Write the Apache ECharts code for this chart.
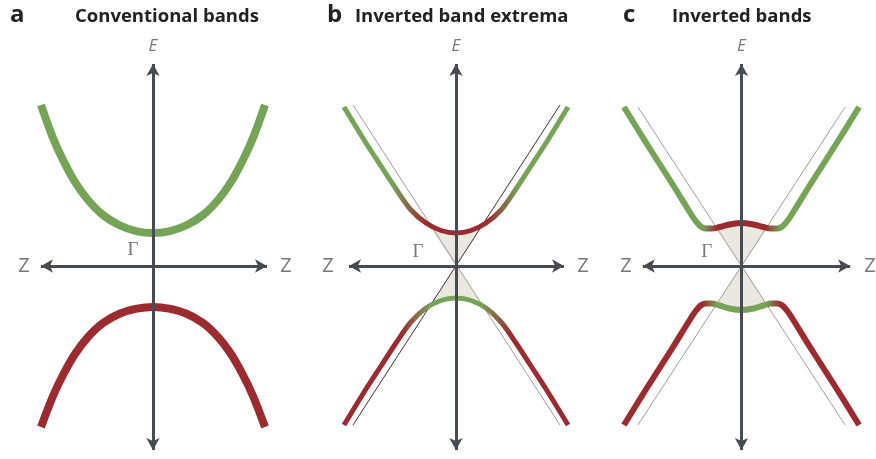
<!DOCTYPE html>
<html><head><meta charset="utf-8">
<script src="https://cdn.jsdelivr.net/npm/echarts@6/dist/echarts.min.js"></script>
<style>html,body{margin:0;padding:0;background:#fff}#c{width:876px;height:459px}</style>
</head><body><div id="c"></div>
<script>
// ---- data (k offset, E offset) ----
// panel a: conventional bands
const aUpperK = [-112,-100,-90,-78,-65,-50,-33,-16,0,16,33,50,65,78,90,100,112];
const aUpperE = [161,128,106,84,66,51,40.5,34.7,33,34.7,40.5,51,66,84,106,128,161];
const aLowerK = [-112,-100,-90,-78,-65,-50,-33,-16,0,16,33,50,65,78,90,100,112];
const aLowerE = [-161,-130,-109,-88,-71,-57,-47.5,-42.6,-41,-42.6,-47.5,-57,-71,-88,-109,-130,-161];
// panel b: inverted band extrema
const bUpperK = [-112,-90,-75,-60,-45,-30,-15,0,15,30,45,60,75,90,112];
const bUpperE = [159,123,100,77,56,43,35.5,33,35.5,43,56,77,100,123,159];
const bLowerK = [-112,-90,-75,-60,-45,-30,-15,0,15,30,45,60,75,90,112];
const bLowerE = [-159,-123,-100,-77,-56,-42,-34.5,-32,-34.5,-42,-56,-77,-100,-123,-159];
const bLineGray = [[-103,161],[104,-159]];
const bLineDark = [[-103,-159],[104,161]];
const bShadeUp = [[0,0],[-26.5,40.8],[-15,35.5],[0,33],[15,35.5],[26.5,40.8]];
const bShadeDown = [[0,0],[-26,-40],[-15,-34.5],[0,-32],[15,-34.5],[26,-40]];
// panel c: inverted bands
const cUpperK = [-118,-95,-70,-52,-46,-41,-36,-30,-22,-12,0,12,22,30,36,41,46,52,70,95,118];
const cUpperE = [159,122,83,54,45,39.5,37.5,37.5,39,41.5,43,41.5,39,37.5,37.5,39.5,45,54,83,122,159];
const cLowerK = [-118,-95,-70,-52,-46,-41,-36,-30,-22,-12,0,12,22,30,36,41,46,52,70,95,118];
const cLowerE = [-159,-122,-83,-54,-45,-39.5,-37.5,-37.5,-39.5,-42.5,-44,-42.5,-39.5,-37.5,-37.5,-39.5,-45,-54,-83,-122,-159];
const cLineA = [[-104,159],[104,-159]];
const cLineB = [[104,159],[-104,-159]];
const cShadeUp = [[0,0],[-25,38.3],[-22,39],[-12,41.5],[0,43],[12,41.5],[22,39],[25,38.3]];
const cShadeDown = [[0,0],[-25,-38.3],[-22,-39.5],[-12,-42.5],[0,-44],[12,-42.5],[22,-39.5],[25,-38.3]];
// axis arrow extents (k from, k to) and (E from, E to)
const kAxisEnds = [[-112,114],[-107,108],[-99,109]];
const eAxisEnds = [-184,202];
// labels
const panelLetters = ['a','b','c'];
const panelTitles = ['Conventional bands','Inverted band extrema','Inverted bands'];
const zLabelK = [[-129,133],[-128,127],[-116,129]];
const gammaPos = [[-20,16],[-38,14],[-35,14]];
const eLabelE = 220;

// ---- styling / layout ----
const GREEN = '#75a457', RED = '#9c2b2f', AXIS = '#464c52', TXT = '#555555';
const origins = [[153,266],[456,266],[742,266]];
const XR = [-135,135], YR = [-190,230];

const grids = [], xAxes = [], yAxes = [], series = [];
origins.forEach((o,i)=>{
  grids.push({left:o[0]+XR[0], width:XR[1]-XR[0], top:o[1]-YR[1], height:YR[1]-YR[0]});
  const ax = {type:'value', gridIndex:i, show:false, axisLine:{show:false}, axisTick:{show:false}, axisLabel:{show:false}, splitLine:{show:false}};
  xAxes.push(Object.assign({}, ax, {min:XR[0], max:XR[1]}));
  yAxes.push(Object.assign({}, ax, {min:YR[0], max:YR[1]}));
});

function grad(stops){ return {type:'linear', x:0, y:0, x2:1, y2:0, colorStops:stops.map(s=>({offset:s[0], color:s[1]}))}; }
function pairs(ks, es){ return ks.map((k,j)=>[k, es[j]]); }
function band(g, ks, es, w, color){
  return {type:'line', xAxisIndex:g, yAxisIndex:g, data:pairs(ks,es), smooth:0.35, symbol:'none', z:4,
    lineStyle:{width:w, color:color, cap:'butt', join:'round'}, silent:true};
}
function thin(g, pts, color){
  return {type:'line', xAxisIndex:g, yAxisIndex:g, data:pts, symbol:'none', z:3, silent:true,
    lineStyle:{width:1, color:color}};
}
function shade(g, pts){
  return {type:'custom', xAxisIndex:g, yAxisIndex:g, data:[[0,0]], z:2, silent:true,
    renderItem:(p, api)=>({type:'polygon', shape:{points:pts.map(q=>api.coord(q))},
      style:{fill:'#ebe8e1', stroke:'#d8d3cb', lineWidth:0.6}})};
}

// panel a
series.push(band(0, aUpperK, aUpperE, 8, GREEN));
series.push(band(0, aLowerK, aLowerE, 8, RED));
// panel b
series.push(shade(1, bShadeUp), shade(1, bShadeDown));
series.push(thin(1, bLineGray, '#a39c98'), thin(1, bLineDark, '#3d3434'));
series.push(band(1, bUpperK, bUpperE, 5, grad([[0,GREEN],[0.223,GREEN],[0.366,RED],[0.634,RED],[0.777,GREEN],[1,GREEN]])));
series.push(band(1, bLowerK, bLowerE, 5, grad([[0,RED],[0.263,RED],[0.388,GREEN],[0.612,GREEN],[0.737,RED],[1,RED]])));
// panel c
series.push(shade(2, cShadeUp), shade(2, cShadeDown));
series.push(thin(2, cLineA, '#a39c98'), thin(2, cLineB, '#a39c98'));
series.push(band(2, cUpperK, cUpperE, 6, grad([[0,GREEN],[0.339,GREEN],[0.398,RED],[0.602,RED],[0.661,GREEN],[1,GREEN]])));
series.push(band(2, cLowerK, cLowerE, 6, grad([[0,RED],[0.339,RED],[0.398,GREEN],[0.602,GREEN],[0.661,RED],[1,RED]])));

// axes with arrows (markLine through the grid scales) + text labels
origins.forEach((o,i)=>{
  series.push({type:'line', xAxisIndex:i, yAxisIndex:i, data:[], z:10, silent:true,
    markLine:{silent:true, animation:false, symbol:['arrow','arrow'], symbolSize:[10,12], label:{show:false},
      lineStyle:{type:'solid', color:AXIS, width:3},
      emphasis:{disabled:true},
      data:[
        [{coord:[kAxisEnds[i][0],0]},{coord:[kAxisEnds[i][1],0]}],
        [{coord:[0,eAxisEnds[0]]},{coord:[0,eAxisEnds[1]]}]
      ]}});
  series.push({type:'scatter', xAxisIndex:i, yAxisIndex:i, symbolSize:0, silent:true, z:12,
    data:[
      {value:[zLabelK[i][0],0], name:'Z', label:{fontFamily:'Open Sans', fontSize:20, color:TXT}},
      {value:[zLabelK[i][1],0], name:'Z', label:{fontFamily:'Open Sans', fontSize:20, color:TXT}},
      {value:[gammaPos[i][0],gammaPos[i][1]], name:'Γ', label:{fontFamily:'Liberation Serif', fontSize:19, color:TXT}},
      {value:[0,eLabelE], name:'E', label:{fontFamily:'Open Sans', fontStyle:'italic', fontSize:17, color:TXT}}
    ],
    label:{show:true, position:'inside', formatter:'{b}'}});
});

const titles = [];
const letterX = [10,327,623], titleX = [75,355,672];
panelLetters.forEach((l,i)=>{
  titles.push({text:l, left:letterX[i], top:3, padding:0, textStyle:{fontFamily:'Open Sans', fontWeight:'bold', fontSize:24, color:'#222'}});
  titles.push({text:panelTitles[i], left:titleX[i], top:7, padding:0, textStyle:{fontFamily:'Open Sans', fontWeight:'bold', fontSize:18.5, color:'#222'}});
});

const chart = echarts.init(document.getElementById('c'), null, {renderer:'canvas'});
chart.setOption({animation:false, backgroundColor:'#fff', title:titles, grid:grids, xAxis:xAxes, yAxis:yAxes, series:series});
</script></body></html>
